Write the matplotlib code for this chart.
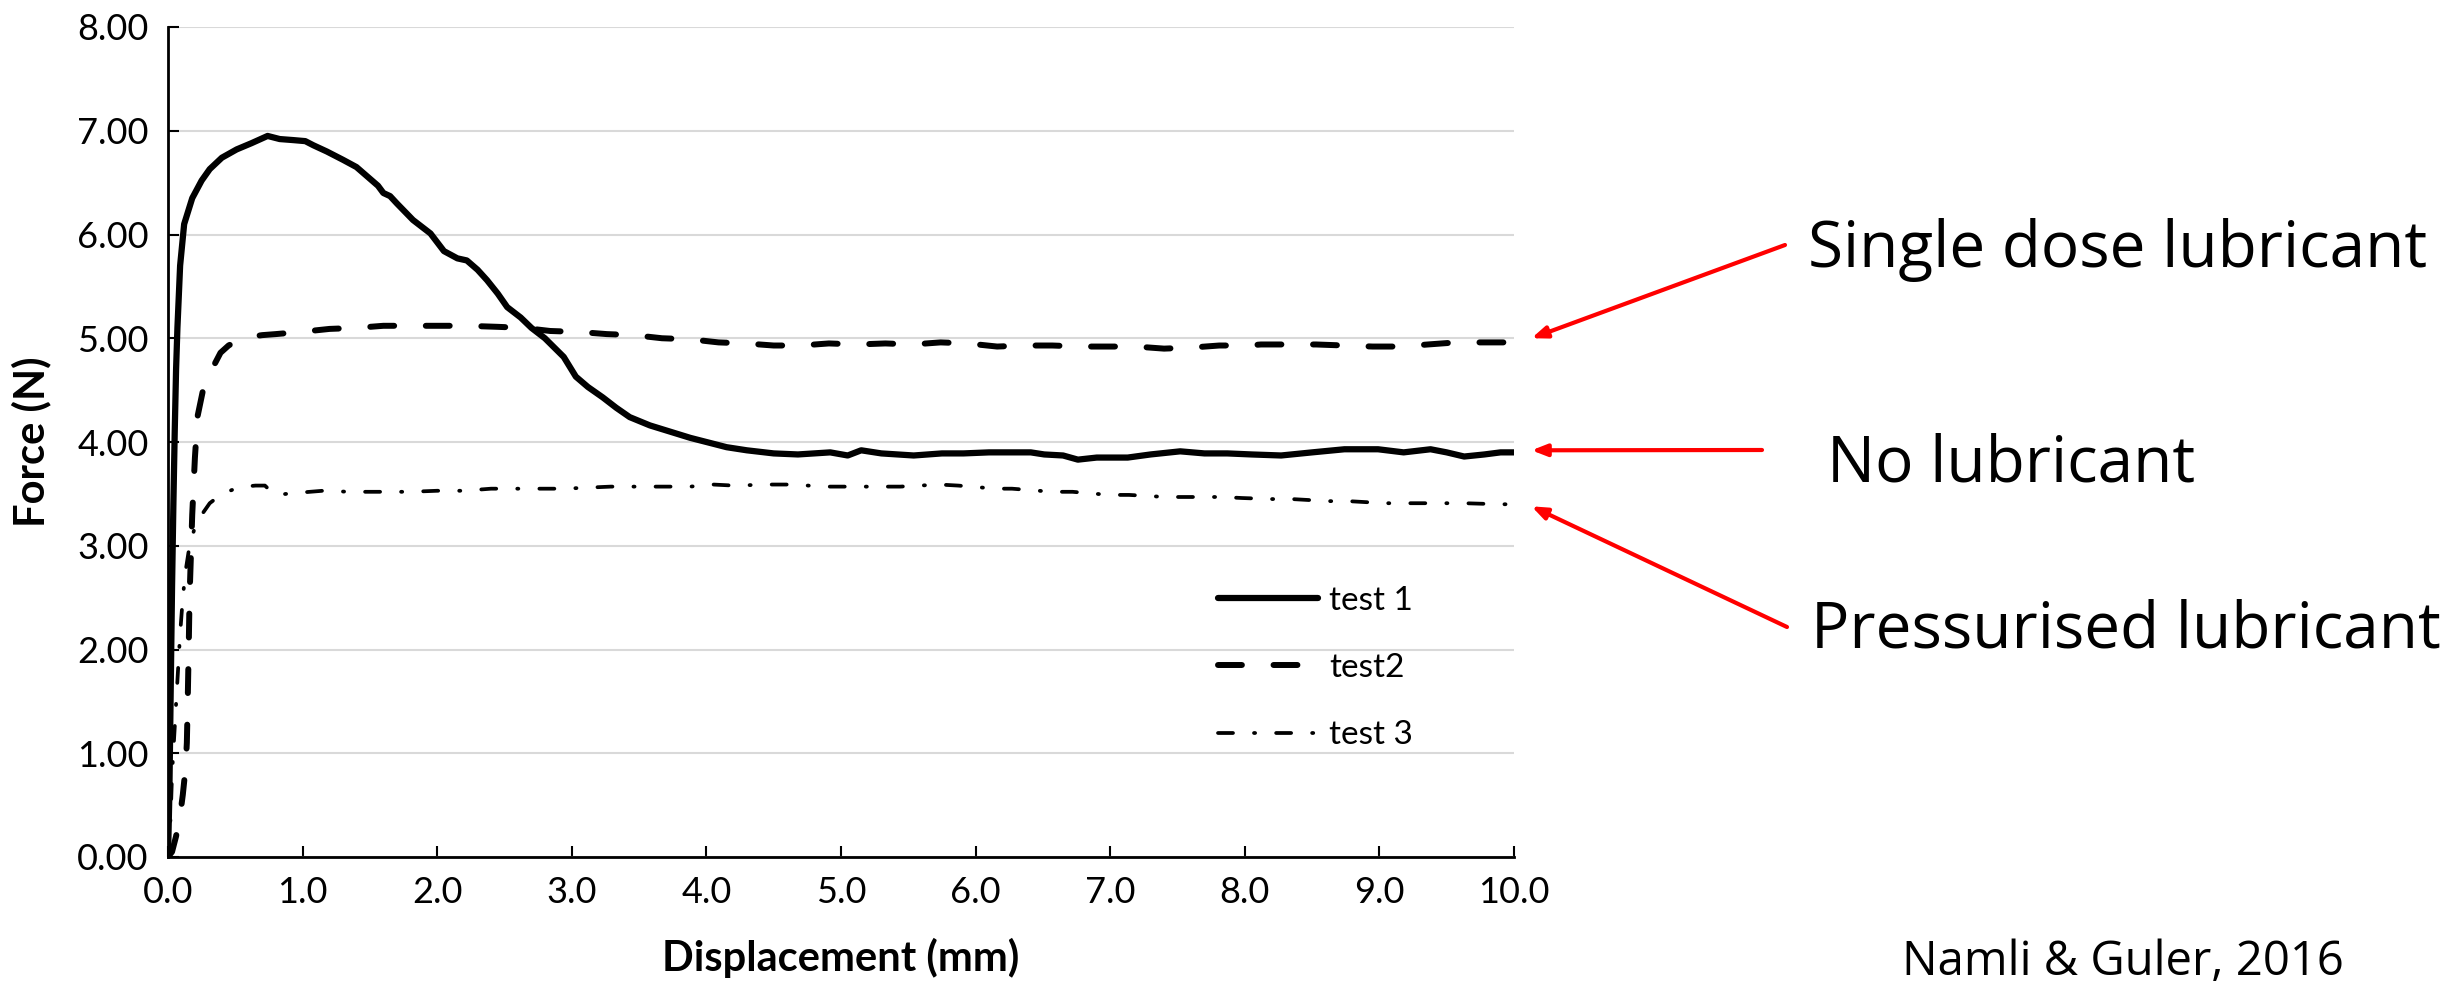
import matplotlib
matplotlib.use('Agg')
import matplotlib.pyplot as plt

# test 1 (solid) - no lubricant
x1 = [0.00, 0.01, 0.02, 0.03, 0.04, 0.05, 0.06, 0.07, 0.09, 0.12,
      0.18, 0.25, 0.31, 0.40, 0.51, 0.62, 0.74, 0.83, 0.93, 1.02,
      1.08, 1.18, 1.30, 1.40, 1.48, 1.56, 1.60, 1.65, 1.70, 1.82,
      1.95, 2.05, 2.15, 2.22, 2.30, 2.37, 2.45, 2.52, 2.62, 2.70,
      2.80, 2.94, 3.03, 3.12, 3.23, 3.33, 3.43, 3.58, 3.73, 3.88,
      4.03, 4.15, 4.30, 4.50, 4.68, 4.80, 4.92, 5.05, 5.15, 5.30,
      5.54, 5.75, 5.91, 6.10, 6.26, 6.41, 6.51, 6.65, 6.76, 6.90,
      7.13, 7.30, 7.52, 7.70, 7.87, 8.05, 8.27, 8.50, 8.74, 8.99,
      9.18, 9.38, 9.50, 9.63, 9.78, 9.90, 10.00]
y1 = [0.00, 0.60, 1.60, 2.60, 3.40, 4.10, 4.70, 5.10, 5.70, 6.10,
      6.35, 6.52, 6.63, 6.74, 6.82, 6.88, 6.95, 6.92, 6.91, 6.90,
      6.86, 6.80, 6.72, 6.65, 6.56, 6.47, 6.40, 6.37, 6.30, 6.14,
      6.01, 5.84, 5.77, 5.75, 5.66, 5.56, 5.43, 5.30, 5.20, 5.10,
      5.00, 4.82, 4.63, 4.53, 4.43, 4.33, 4.24, 4.16, 4.10, 4.04,
      3.99, 3.95, 3.92, 3.89, 3.88, 3.89, 3.90, 3.87, 3.92, 3.89,
      3.87, 3.89, 3.89, 3.90, 3.90, 3.90, 3.88, 3.87, 3.83, 3.85,
      3.85, 3.88, 3.91, 3.89, 3.89, 3.88, 3.87, 3.90, 3.93, 3.93,
      3.90, 3.93, 3.90, 3.86, 3.88, 3.90, 3.90]

# test2 (dashed) - single dose lubricant
x2 = [0.00, 0.03, 0.06, 0.09, 0.11, 0.13, 0.14, 0.145, 0.15, 0.155,
      0.16, 0.17, 0.18, 0.20, 0.22, 0.26, 0.30, 0.35, 0.39, 0.45,
      0.52, 0.59, 0.70, 0.80, 0.98, 1.20, 1.40, 1.60, 1.82, 2.02,
      2.22, 2.45, 2.64, 2.84, 3.06, 3.26, 3.46, 3.67, 3.88, 4.09,
      4.29, 4.50, 4.70, 4.91, 5.12, 5.33, 5.53, 5.74, 5.94, 6.16,
      6.36, 6.57, 6.78, 6.98, 7.19, 7.40, 7.60, 7.81, 8.02, 8.12,
      8.33, 8.53, 8.74, 8.95, 9.16, 9.36, 9.57, 9.78, 10.00]
y2 = [0.00, 0.05, 0.20, 0.40, 0.60, 0.85, 1.10, 1.40, 1.75, 2.10,
      2.50, 2.90, 3.30, 3.85, 4.25, 4.50, 4.63, 4.76, 4.86, 4.93,
      4.98, 5.01, 5.03, 5.04, 5.06, 5.09, 5.10, 5.12, 5.12, 5.12,
      5.12, 5.11, 5.10, 5.07, 5.06, 5.04, 5.03, 5.00, 4.99, 4.96,
      4.95, 4.93, 4.93, 4.95, 4.94, 4.95, 4.94, 4.96, 4.95, 4.92,
      4.93, 4.93, 4.92, 4.92, 4.92, 4.90, 4.91, 4.93, 4.93, 4.94,
      4.94, 4.94, 4.93, 4.92, 4.92, 4.94, 4.96, 4.96, 4.96]

# test 3 (dash-dot) - pressurised lubricant
x3 = [0.00, 0.02, 0.03, 0.05, 0.07, 0.09, 0.11, 0.13, 0.16, 0.20,
      0.24, 0.31, 0.38, 0.44, 0.50, 0.57, 0.65, 0.72, 0.76, 0.80,
      0.88, 0.96, 1.15, 1.35, 1.58, 1.80, 2.00, 2.20, 2.40, 2.60,
      2.79, 2.94, 3.29, 3.44, 3.73, 3.88, 4.05, 4.20, 4.47, 4.62,
      4.89, 5.03, 5.31, 5.44, 5.73, 5.87, 6.15, 6.27, 6.57, 6.72,
      6.99, 7.14, 7.41, 7.56, 7.83, 7.98, 8.20, 8.35, 8.62, 8.77,
      9.04, 9.20, 9.46, 9.63, 9.89, 10.00]
y3 = [0.00, 0.40, 0.80, 1.25, 1.70, 2.15, 2.50, 2.75, 3.00, 3.18,
      3.28, 3.41, 3.48, 3.52, 3.55, 3.57, 3.58, 3.58, 3.53, 3.49,
      3.50, 3.51, 3.53, 3.52, 3.52, 3.52, 3.53, 3.53, 3.55, 3.55,
      3.55, 3.55, 3.57, 3.57, 3.57, 3.57, 3.59, 3.58, 3.59, 3.59,
      3.57, 3.57, 3.57, 3.57, 3.59, 3.58, 3.55, 3.55, 3.52, 3.52,
      3.49, 3.49, 3.47, 3.47, 3.47, 3.46, 3.45, 3.45, 3.43, 3.43,
      3.41, 3.41, 3.41, 3.41, 3.40, 3.40]

labels = ['test 1', 'test2', 'test 3']
notes = ['Single dose lubricant', 'No lubricant', 'Pressurised lubricant']
note_y = [5.00, 3.92, 3.38]   # where the red arrows point (data units)
source = 'Namli & Guler, 2016'

plt.rcParams['font.family'] = ['Lato', 'DejaVu Sans']

fig = plt.figure(figsize=(24.6, 9.82), dpi=100)
ax = fig.add_axes([168/2460, 125/982, 1346/2460, 830/982])

ax.plot(x1, y1, color='black', lw=4.5, solid_capstyle='round', label=labels[0])
ax.plot(x2, y2, color='black', lw=4.3, linestyle=(0, (4.0, 5.3)),
        dash_capstyle='round', label=labels[1])
ax.plot(x3, y3, color='black', lw=2.7, linestyle=(0, (4.0, 5.6, 0.3, 5.6)),
        dash_capstyle='round', label=labels[2])

ax.set_xlim(0, 10)
ax.set_ylim(0, 8)
ax.set_xticks(range(0, 11))
ax.set_yticks(range(0, 9))
ax.set_xticklabels(['%.1f' % v for v in range(0, 11)])
ax.set_yticklabels(['%.2f' % v for v in range(0, 9)])
ax.tick_params(axis='both', direction='in', length=8, width=1.5,
               labelsize=26, pad=14, colors='black')
ax.yaxis.grid(True, color='#d9d9d9', lw=1.5)
ax.set_axisbelow(True)
for s in ('top', 'right'):
    ax.spines[s].set_visible(False)
for s in ('left', 'bottom'):
    ax.spines[s].set_linewidth(2)

ax.set_xlabel('Displacement (mm)', fontsize=30, fontweight='bold')
ax.set_ylabel('Force (N)', fontsize=30, fontweight='bold')
ax.xaxis.set_label_coords(0.5, -0.098)
ax.yaxis.set_label_coords(-0.087, 0.5)

ax.legend(loc='upper left', bbox_to_anchor=(0.780, 0.327), frameon=False,
          fontsize=24, handlelength=3.0, handletextpad=0.33,
          labelspacing=1.12, borderpad=0, borderaxespad=0)

# red arrows and right-hand notes (positions in figure pixels)
tails = [(1785, 737), (1762, 532), (1787, 355)]
text_pos = [(1808, 715), (1827, 500), (1811, 335)]
for ny, tl, tp, note in zip(note_y, tails, text_pos, notes):
    ax.annotate('', xy=(10.13, ny), xycoords='data', xytext=tl,
                textcoords='figure pixels', annotation_clip=False,
                arrowprops=dict(arrowstyle='-|>,head_length=0.9,head_width=0.35',
                                color='#ff0000', lw=3, shrinkA=0, shrinkB=0))
    fig.text(tp[0] / 2460, tp[1] / 982, note, fontsize=46,
             family='Open Sans', ha='left', va='baseline')

fig.text(1902 / 2460, 7 / 982, source, fontsize=34, family='Open Sans',
         ha='left', va='baseline')

fig.savefig('out.png', dpi=100)
